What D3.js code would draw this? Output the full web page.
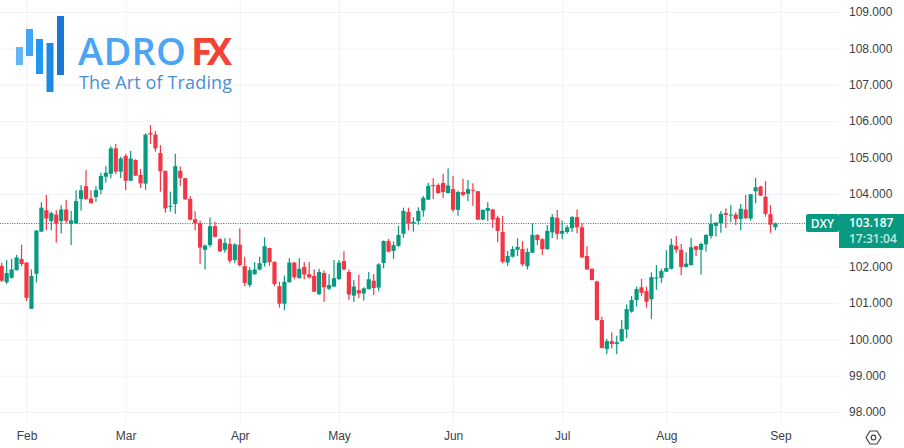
<!DOCTYPE html>
<html>
<head>
<meta charset="utf-8">
<script src="https://cdn.jsdelivr.net/npm/d3@7"></script>
<style>
  body { margin: 0; background: #fff; }
  svg { display: block; font-family: "Open Sans", sans-serif; }
  .axis text { fill: #3c4049; font-size: 12px; }
  .axis line { stroke: #f0f2f6; }
  .axis path { display: none; }
</style>
</head>
<body>
<svg width="904" height="448"></svg>
<script>
// daily candles, trading day index runs from -5 (late Jan) up to 151 (end of Aug)
var firstDay = -5;

var opens = [
  102.02,101.57,101.69,101.90,102.21,102.11,100.84,101.80,102.96,103.55,
  103.25,103.43,103.25,103.57,103.18,103.19,103.86,104.21,103.87,103.91,
  104.11,104.47,104.55,105.25,104.61,105.04,104.36,104.93,104.52,104.28,
  105.67,105.63,105.12,104.63,103.65,103.72,104.63,104.43,103.86,103.30,
  103.19,102.46,102.59,103.11,102.75,102.46,102.62,102.18,102.60,102.01,
  101.49,101.79,101.92,102.10,102.51,102.13,101.46,100.98,101.57,102.11,
  101.68,101.99,101.79,101.74,101.24,101.82,101.39,101.45,101.66,102.15,
  101.85,101.20,101.35,101.26,101.38,101.61,101.42,102.10,102.70,102.43,
  102.57,102.90,103.50,103.18,103.25,103.54,103.84,104.24,104.24,104.30,
  104.02,104.13,103.56,104.05,104.00,104.11,104.07,103.29,103.53,103.57,
  103.34,102.95,102.11,102.27,102.46,102.48,102.01,102.38,102.87,102.75,
  102.48,102.94,103.34,102.90,102.95,103.06,103.36,103.08,102.29,101.94,
  101.59,100.53,99.73,99.95,99.87,99.95,100.27,100.76,101.08,101.43,
  101.33,101.10,101.67,101.69,101.86,101.94,102.57,102.46,101.99,102.04,
  102.56,102.46,102.61,102.84,103.12,103.19,103.47,103.41,103.43,103.31,
  103.57,103.32,104.07,104.20,103.92,103.44,103.08
];
var highs = [
  102.11,102.18,102.21,102.32,102.60,102.12,101.92,103.00,103.77,103.97,
  103.51,103.55,103.69,103.83,103.53,104.10,104.24,104.65,104.10,104.21,
  104.58,104.76,105.31,105.37,105.02,105.10,105.18,104.95,104.68,105.66,
  105.89,105.73,105.34,104.64,104.06,105.10,104.75,104.44,103.94,103.52,
  103.26,102.61,103.35,103.23,102.78,102.78,102.78,102.64,103.05,102.27,
  101.98,102.12,102.27,102.80,102.52,102.14,101.58,101.75,102.23,102.12,
  102.23,102.12,102.12,101.92,101.94,101.89,101.79,102.18,102.18,102.42,
  101.92,101.63,101.78,101.43,101.85,101.79,102.09,102.72,102.76,102.69,
  103.12,103.62,103.62,103.36,103.63,103.94,104.30,104.43,104.29,104.55,
  104.70,104.49,104.09,104.41,104.38,104.29,104.08,103.57,103.77,103.59,
  103.40,103.39,102.43,102.56,102.78,102.70,102.50,103.19,102.89,102.78,
  103.14,103.44,103.56,103.26,103.14,103.39,103.57,103.19,102.56,101.95,
  101.61,100.62,100.01,100.19,100.10,100.53,100.96,101.19,101.45,101.66,
  101.45,101.84,102.04,101.94,102.45,102.77,102.84,102.62,102.39,102.79,
  102.57,102.66,102.89,103.45,103.21,103.53,103.60,103.69,103.49,103.72,
  103.97,103.99,104.44,104.22,104.35,103.69,103.21
];
var lows = [
  101.58,101.52,101.67,101.89,102.01,101.05,100.83,101.56,102.95,103.00,
  103.00,102.66,102.91,103.19,102.59,103.18,103.54,103.83,103.74,103.78,
  103.99,104.31,104.43,104.54,104.43,104.10,104.35,104.49,104.16,104.11,
  105.37,105.16,104.06,103.48,103.51,103.45,104.21,103.83,103.27,103.00,
  102.07,101.92,102.53,102.80,102.40,102.38,102.09,102.09,102.00,101.46,
  101.43,101.77,101.89,102.00,102.02,101.46,100.87,100.80,101.56,101.65,
  101.67,101.65,101.67,101.30,101.22,101.03,101.35,101.44,101.63,101.90,
  101.08,101.03,101.13,101.06,101.37,101.22,101.32,101.95,102.39,102.21,
  102.54,102.79,103.00,102.96,103.15,103.37,103.83,103.86,104.01,103.89,
  104.01,103.50,103.40,103.93,103.80,103.67,103.28,103.28,103.25,103.06,
  102.67,102.09,102.02,102.25,102.29,102.01,101.92,102.37,102.59,102.32,
  102.46,102.78,102.75,102.75,102.90,102.95,102.91,102.24,101.91,101.62,
  100.51,99.75,99.59,99.75,99.59,99.93,100.03,100.73,100.90,101.19,
  100.87,100.56,101.36,101.55,101.85,101.92,102.38,101.76,101.97,102.03,
  102.29,101.78,102.41,102.77,102.82,102.93,103.06,103.22,103.14,103.00,
  103.31,103.26,103.74,103.94,103.37,102.93,103.00
];
var closes = [
  101.61,101.82,101.92,102.25,102.07,101.14,101.74,102.99,103.62,103.32,
  103.47,103.18,103.57,103.26,103.27,103.80,104.10,103.86,103.74,104.10,
  104.49,104.58,105.25,104.61,104.97,104.36,104.97,104.50,104.29,105.63,
  105.63,105.25,104.62,103.60,103.67,104.76,104.43,103.85,103.29,103.19,
  102.52,102.58,103.11,102.82,102.42,102.65,102.16,102.61,102.04,101.55,
  101.90,101.92,102.09,102.56,102.12,101.52,100.98,101.58,102.11,101.71,
  101.94,101.78,101.70,101.31,101.85,101.43,101.49,101.68,102.11,101.92,
  101.23,101.45,101.26,101.40,101.65,101.41,102.06,102.70,102.41,102.59,
  102.87,103.53,103.18,103.23,103.53,103.89,104.22,104.22,104.02,104.05,
  104.23,103.56,104.05,103.97,104.13,104.09,103.29,103.56,103.61,103.29,
  102.98,102.13,102.29,102.48,102.54,102.06,102.40,102.87,102.73,102.48,
  102.98,103.36,102.90,102.98,103.08,103.36,103.08,102.25,101.92,101.63,
  100.53,99.76,99.95,99.87,99.92,100.28,100.83,101.08,101.38,101.28,
  101.03,101.71,101.70,101.88,101.96,102.60,102.46,101.99,102.08,102.53,
  102.46,102.62,102.87,103.18,103.21,103.45,103.42,103.43,103.31,103.59,
  103.33,103.99,104.18,103.95,103.45,103.15,103.187
];

var priceTicks = [98,99,100,101,102,103,104,105,106,107,108,109];
var hiddenPriceLabel = 103; // sits under the last price box, only its grid line shows
var monthLabels = ["Feb","Mar","Apr","May","Jun","Jul","Aug","Sep"];
var monthDays = [0,20,43,63,86,108,129,152]; // trading day each month starts on

var symbol = "DXY";
var lastPrice = "103.187";
var countdown = "17:31:04";

var upColor = "#089981", downColor = "#f23645";

var plotRight = 839, plotBottom = 423;

var svg = d3.select("svg");

var x = d3.scaleLinear().domain([0, 152]).range([26.5, 780.4]);
var y = d3.scaleLinear().domain([98, 109]).range([412, 12]);

var priceFormat = d3.format(".3f");

// grid comes from the axes' own tick lines
svg.append("g")
  .attr("class", "axis")
  .attr("transform", "translate(" + plotRight + ",0)")
  .call(d3.axisRight(y)
    .tickValues(priceTicks)
    .tickFormat(function(d) { return d === hiddenPriceLabel ? "" : priceFormat(d); })
    .tickSize(-plotRight)
    .tickPadding(10));

svg.append("g")
  .attr("class", "axis")
  .attr("transform", "translate(0," + plotBottom + ")")
  .call(d3.axisBottom(x)
    .tickValues(monthDays)
    .tickFormat(function(d, i) { return monthLabels[i]; })
    .tickSize(-plotBottom)
    .tickPadding(8));

var candles = d3.range(opens.length);

var marks = svg.append("g");

// wicks
marks.selectAll(".wick")
  .data(candles)
  .enter().append("rect")
  .attr("class", "wick")
  .attr("x", function(i) { return x(i + firstDay) - 0.6; })
  .attr("width", 1.2)
  .attr("y", function(i) { return y(highs[i]); })
  .attr("height", function(i) { return y(lows[i]) - y(highs[i]); })
  .attr("fill", function(i) { return closes[i] >= opens[i] ? upColor : downColor; });

// bodies
marks.selectAll(".body")
  .data(candles)
  .enter().append("rect")
  .attr("class", "body")
  .attr("x", function(i) { return x(i + firstDay) - 2.1; })
  .attr("width", 4.2)
  .attr("y", function(i) { return y(Math.max(opens[i], closes[i])); })
  .attr("height", function(i) { return Math.max(1, Math.abs(y(opens[i]) - y(closes[i]))); })
  .attr("fill", function(i) { return closes[i] >= opens[i] ? upColor : downColor; });

// last price line and labels
var lastY = Math.floor(y(+lastPrice)) + 0.5;

svg.append("line")
  .attr("x1", 0).attr("x2", 806)
  .attr("y1", lastY).attr("y2", lastY)
  .attr("stroke", upColor)
  .attr("stroke-width", 1.2)
  .attr("stroke-dasharray", "1,1.4");

svg.append("rect")
  .attr("x", 806).attr("y", 214).attr("width", 33).attr("height", 18)
  .attr("rx", 2)
  .attr("fill", upColor);
svg.append("rect")
  .attr("x", 839).attr("y", 214).attr("width", 65).attr("height", 34)
  .attr("fill", upColor);

svg.append("text")
  .attr("x", 822.5).attr("y", 227.5)
  .attr("text-anchor", "middle")
  .attr("fill", "#fff")
  .style("font-size", "12px")
  .style("font-weight", 600)
  .text(symbol);
svg.append("text")
  .attr("x", 849).attr("y", 227)
  .attr("fill", "#fff")
  .style("font-size", "12px")
  .style("font-weight", 600)
  .text(lastPrice);
svg.append("text")
  .attr("x", 849).attr("y", 243)
  .attr("fill", "#c4e8e0")
  .style("font-size", "12px")
  .style("font-weight", 600)
  .text(countdown);

// settings icon
var gear = svg.append("g")
  .attr("transform", "translate(873.5,437.5)")
  .attr("fill", "none")
  .attr("stroke", "#3c4049")
  .attr("stroke-width", 1.2);
gear.append("path").attr("d", "M-7.5,0L-3.5,-6.5H3.5L7.5,0L3.5,6.5H-3.5Z");
gear.append("circle").attr("r", 2.3);

// logo
var logoBars = [
  {x: 16, y: 47, w: 7, h: 18, c: "#64b5f6"},
  {x: 26, y: 29, w: 7, h: 27, c: "#42a5f5"},
  {x: 36, y: 39, w: 7, h: 35, c: "#2196f3"},
  {x: 46.5, y: 43, w: 7, h: 49, c: "#1e88e5"},
  {x: 57, y: 16, w: 7, h: 59, c: "#1976d2"}
];
svg.append("g").selectAll("rect")
  .data(logoBars)
  .enter().append("rect")
  .attr("x", function(d) { return d.x; })
  .attr("y", function(d) { return d.y; })
  .attr("width", function(d) { return d.w; })
  .attr("height", function(d) { return d.h; })
  .attr("fill", function(d) { return d.c; });

svg.append("text")
  .attr("x", 78).attr("y", 65)
  .attr("fill", "#4aa5f5")
  .style("font-family", "'Open Sans', sans-serif")
  .style("font-size", "38px")
  .style("font-weight", 600)
  .attr("textLength", 108)
  .text("ADRO");
svg.append("text")
  .attr("x", 191).attr("y", 65)
  .attr("fill", "#f44336")
  .style("font-family", "'Open Sans', sans-serif")
  .style("font-size", "38px")
  .style("font-weight", 700)
  .attr("textLength", 41)
  .text("FX");
svg.append("text")
  .attr("x", 79).attr("y", 89)
  .attr("fill", "#4a8fd6")
  .style("font-family", "'Open Sans', sans-serif")
  .style("font-size", "18px")
  .style("font-weight", 400)
  .attr("textLength", 153)
  .text("The Art of Trading");
</script>
</body>
</html>
